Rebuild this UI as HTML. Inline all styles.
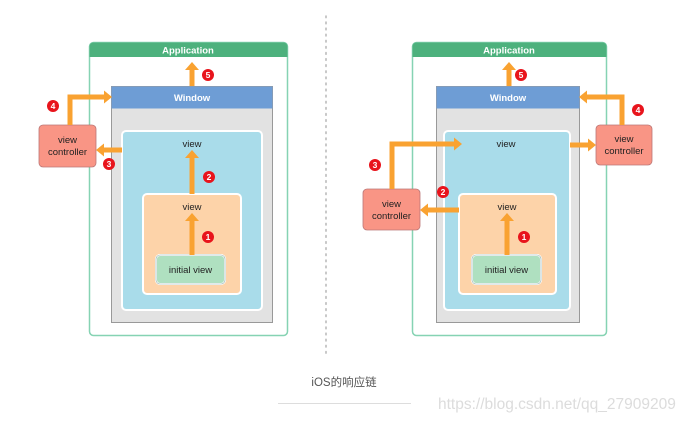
<!DOCTYPE html>
<html><head><meta charset="utf-8"><style>
html,body{margin:0;padding:0;background:#fff;width:690px;height:421px;overflow:hidden}
svg{display:block}
text{font-family:"Liberation Sans","Noto Sans CJK SC",sans-serif}
</style></head><body>
<svg width="690" height="421" viewBox="0 0 690 421" xmlns="http://www.w3.org/2000/svg">
<line x1="326" y1="16" x2="326" y2="356" stroke="#bbb" stroke-width="1.6" stroke-dasharray="1.6,4.5" stroke-linecap="round"/>

<!-- LEFT PANEL -->
<rect x="89.5" y="42.5" width="198" height="293" rx="4" fill="#fff" stroke="#86d3b3" stroke-width="1.5"/>
<path d="M89.5 57 V46.5 a4 4 0 0 1 4 -4 H283.5 a4 4 0 0 1 4 4 V57 Z" fill="#4db17d"/>
<text x="188" y="53.5" font-size="9.5" font-weight="bold" fill="#fff" text-anchor="middle">Application</text>
<rect x="111.5" y="86.5" width="161" height="236" fill="#e2e2e2" stroke="#999" stroke-width="1"/>
<rect x="111.5" y="86.5" width="161" height="22" fill="#6e9dd5"/>
<text x="192" y="101" font-size="9.5" font-weight="bold" fill="#fff" text-anchor="middle">Window</text>
<rect x="122" y="131" width="140" height="179" rx="4" fill="#a9dcea" stroke="#fff" stroke-width="2"/>
<text x="192" y="147" font-size="9.5" fill="#222" text-anchor="middle">view</text>
<rect x="143" y="194" width="98" height="100" rx="4" fill="#fdd3a9" stroke="#fff" stroke-width="2"/>
<text x="192" y="210" font-size="9.5" fill="#222" text-anchor="middle">view</text>
<rect x="156" y="255" width="69" height="29" rx="4" fill="#afe0c0" stroke="#fff" stroke-width="2"/>
<rect x="156" y="255" width="69" height="29" rx="4" fill="none" stroke="#8aa" stroke-width="0.6"/>
<text x="190.5" y="273" font-size="9.5" fill="#222" text-anchor="middle">initial view</text>
<rect x="39" y="125" width="57" height="42" rx="4" fill="#f99585" stroke="#b77" stroke-width="0.8"/>
<text x="67.5" y="143" font-size="9.5" fill="#222" text-anchor="middle">view</text>
<text x="67.5" y="155" font-size="9.5" fill="#222" text-anchor="middle">controller</text>

<g fill="#f9a231" stroke="none">
<rect x="189.5" y="70" width="5" height="16"/><polygon points="185,70 199,70 192,62"/>
<polyline points="70,125 70,97 104,97" fill="none" stroke="#f9a231" stroke-width="5"/><polygon points="104,90.5 104,103.5 112,97"/>
<rect x="104" y="147.5" width="18" height="5"/><polygon points="104,143.5 104,156.5 96,150"/>
<rect x="189.5" y="158" width="5" height="36"/><polygon points="185,158 199,158 192,150"/>
<rect x="189.5" y="221" width="5" height="34"/><polygon points="185,221 199,221 192,213"/>
</g>
<g font-size="8.5" font-weight="bold" fill="#fff" text-anchor="middle">
<circle cx="208" cy="75" r="6" fill="#e8141c"/><text x="208" y="78">5</text>
<circle cx="53" cy="106" r="6" fill="#e8141c"/><text x="53" y="109">4</text>
<circle cx="109" cy="164" r="6" fill="#e8141c"/><text x="109" y="167">3</text>
<circle cx="209" cy="177" r="6" fill="#e8141c"/><text x="209" y="180">2</text>
<circle cx="208" cy="237" r="6" fill="#e8141c"/><text x="208" y="240">1</text>
</g>

<!-- RIGHT PANEL -->
<rect x="412.5" y="42.5" width="194" height="293" rx="4" fill="#fff" stroke="#86d3b3" stroke-width="1.5"/>
<path d="M412.5 57 V46.5 a4 4 0 0 1 4 -4 H602.5 a4 4 0 0 1 4 4 V57 Z" fill="#4db17d"/>
<text x="509" y="53.5" font-size="9.5" font-weight="bold" fill="#fff" text-anchor="middle">Application</text>
<rect x="436.5" y="86.5" width="143" height="236" fill="#e2e2e2" stroke="#999" stroke-width="1"/>
<rect x="436.5" y="86.5" width="143" height="22" fill="#6e9dd5"/>
<text x="508" y="101" font-size="9.5" font-weight="bold" fill="#fff" text-anchor="middle">Window</text>
<rect x="444" y="131" width="126" height="179" rx="4" fill="#a9dcea" stroke="#fff" stroke-width="2"/>
<text x="506" y="147" font-size="9.5" fill="#222" text-anchor="middle">view</text>
<rect x="459" y="194" width="97" height="100" rx="4" fill="#fdd3a9" stroke="#fff" stroke-width="2"/>
<text x="507" y="210" font-size="9.5" fill="#222" text-anchor="middle">view</text>
<rect x="472" y="255" width="69" height="29" rx="4" fill="#afe0c0" stroke="#fff" stroke-width="2"/>
<rect x="472" y="255" width="69" height="29" rx="4" fill="none" stroke="#8aa" stroke-width="0.6"/>
<text x="506.5" y="273" font-size="9.5" fill="#222" text-anchor="middle">initial view</text>
<rect x="596" y="125" width="56" height="40" rx="4" fill="#f99585" stroke="#b77" stroke-width="0.8"/>
<text x="624" y="142" font-size="9.5" fill="#222" text-anchor="middle">view</text>
<text x="624" y="154" font-size="9.5" fill="#222" text-anchor="middle">controller</text>
<rect x="363" y="189" width="57" height="41" rx="4" fill="#f99585" stroke="#b77" stroke-width="0.8"/>
<text x="391.5" y="207" font-size="9.5" fill="#222" text-anchor="middle">view</text>
<text x="391.5" y="219" font-size="9.5" fill="#222" text-anchor="middle">controller</text>

<g fill="#f9a231" stroke="none">
<rect x="506.5" y="70" width="5" height="16"/><polygon points="502,70 516,70 509,62"/>
<polyline points="622,125 622,97 587,97" fill="none" stroke="#f9a231" stroke-width="5"/><polygon points="587,90.5 587,103.5 579,97"/>
<rect x="570" y="142.5" width="18" height="5"/><polygon points="588,138.5 588,151.5 596,145"/>
<polyline points="392,189 392,144 454,144" fill="none" stroke="#f9a231" stroke-width="5"/><polygon points="454,137.5 454,150.5 462,144"/>
<rect x="428" y="207.5" width="31" height="5"/><polygon points="428,203.5 428,216.5 420,210"/>
<rect x="504.5" y="221" width="5" height="34"/><polygon points="500,221 514,221 507,213"/>
</g>
<g font-size="8.5" font-weight="bold" fill="#fff" text-anchor="middle">
<circle cx="521" cy="75" r="6" fill="#e8141c"/><text x="521" y="78">5</text>
<circle cx="638" cy="110" r="6" fill="#e8141c"/><text x="638" y="113">4</text>
<circle cx="375" cy="165" r="6" fill="#e8141c"/><text x="375" y="168">3</text>
<circle cx="443" cy="192" r="6" fill="#e8141c"/><text x="443" y="195">2</text>
<circle cx="524" cy="237" r="6" fill="#e8141c"/><text x="524" y="240">1</text>
</g>

<text x="344" y="386" font-size="11.5" fill="#555" text-anchor="middle">iOS的响应链</text>
<line x1="278" y1="403.5" x2="411" y2="403.5" stroke="#ddd" stroke-width="1"/>
<text x="438" y="409" font-size="15.5" fill="#dcdcdc">https://blog.csdn.net/qq_27909209</text>
</svg>
</body></html>
